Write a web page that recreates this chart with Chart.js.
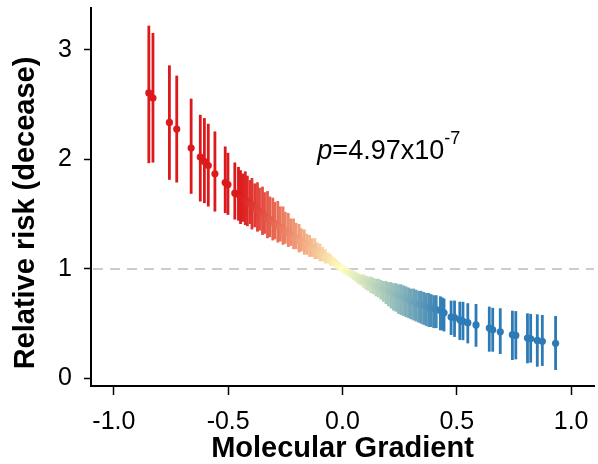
<!DOCTYPE html>
<html lang="en">
<head>
<meta charset="UTF-8"/>
<title>Relative risk vs molecular gradient</title>
<script src="https://cdn.jsdelivr.net/npm/chart.js@4/dist/chart.umd.min.js"></script>
<style>
  body { margin: 0; background: #fff; }
</style>
</head>
<body>
<canvas id="chart" width="598" height="464"></canvas>
<script>
// molecular gradient of each group and its relative risk with 95% CI
const gradient = [
  -0.847, -0.829, -0.757, -0.725, -0.662, -0.622, -0.604, -0.587, -0.558, -0.513, -0.501, -0.471,
  -0.455, -0.446, -0.437, -0.425, -0.416, -0.404, -0.396, -0.384, -0.372, -0.363, -0.350, -0.341,
  -0.328, -0.318, -0.305, -0.296, -0.283, -0.272, -0.260, -0.250, -0.237, -0.226, -0.214, -0.203,
  -0.190, -0.180, -0.167, -0.156, -0.144, -0.133, -0.121, -0.110, -0.098, -0.087, -0.075, -0.064,
  -0.052, -0.041, -0.030, -0.019, -0.008,
  0.003, 0.014, 0.025, 0.036, 0.047, 0.058, 0.069, 0.080, 0.091, 0.102, 0.113, 0.124,
  0.135, 0.146, 0.157, 0.168, 0.179, 0.190, 0.201, 0.212, 0.223, 0.234, 0.245, 0.256,
  0.267, 0.278, 0.289, 0.300, 0.311, 0.322, 0.333, 0.344, 0.355, 0.366, 0.377, 0.388,
  0.399, 0.410, 0.428, 0.436, 0.444,
  0.475, 0.490, 0.513, 0.527, 0.548, 0.584, 0.642, 0.657, 0.690, 0.743, 0.758, 0.809,
  0.823, 0.852, 0.874, 0.932
];
const risk = [
  2.605, 2.559, 2.336, 2.276, 2.102, 2.020, 1.980, 1.943, 1.868, 1.788, 1.770, 1.691,
  1.68, 1.66, 1.65, 1.63, 1.61, 1.60, 1.58, 1.56, 1.54, 1.52, 1.50, 1.48,
  1.46, 1.45, 1.43, 1.41, 1.39, 1.38, 1.36, 1.34, 1.33, 1.31, 1.29, 1.28,
  1.26, 1.25, 1.23, 1.22, 1.20, 1.19, 1.17, 1.16, 1.14, 1.13, 1.11, 1.10,
  1.08, 1.07, 1.05, 1.03, 1.01,
  1.00, 0.98, 0.97, 0.96, 0.95, 0.94, 0.92, 0.91, 0.90, 0.89, 0.88, 0.87,
  0.86, 0.85, 0.84, 0.83, 0.82, 0.81, 0.80, 0.79, 0.78, 0.77, 0.76, 0.75,
  0.74, 0.73, 0.72, 0.71, 0.70, 0.69, 0.68, 0.68, 0.67, 0.66, 0.65, 0.64,
  0.64, 0.63, 0.62, 0.61, 0.60,
  0.561, 0.556, 0.536, 0.522, 0.510, 0.489, 0.461, 0.445, 0.427, 0.400, 0.393, 0.370,
  0.362, 0.348, 0.340, 0.321
];
const lower = [
  1.965, 1.970, 1.813, 1.788, 1.685, 1.615, 1.600, 1.569, 1.523, 1.509, 1.493, 1.450,
  1.44, 1.41, 1.43, 1.40, 1.39, 1.41, 1.36, 1.38, 1.34, 1.35, 1.31, 1.32,
  1.28, 1.29, 1.26, 1.27, 1.24, 1.25, 1.22, 1.23, 1.20, 1.21, 1.18, 1.18,
  1.15, 1.16, 1.13, 1.13, 1.11, 1.11, 1.09, 1.09, 1.07, 1.07, 1.05, 1.05,
  1.03, 1.03, 1.02, 1.01, 1.00,
  0.98, 0.96, 0.94, 0.92, 0.90, 0.88, 0.86, 0.85, 0.83, 0.81, 0.80, 0.78,
  0.77, 0.75, 0.74, 0.72, 0.70, 0.68, 0.66, 0.64, 0.62, 0.61, 0.59, 0.58,
  0.57, 0.56, 0.55, 0.54, 0.53, 0.52, 0.51, 0.50, 0.49, 0.48, 0.47, 0.47,
  0.46, 0.46, 0.44, 0.44, 0.43,
  0.397, 0.380, 0.352, 0.350, 0.321, 0.290, 0.245, 0.245, 0.224, 0.169, 0.175, 0.139,
  0.145, 0.108, 0.115, 0.078
];
const upper = [
  3.219, 3.152, 2.857, 2.763, 2.553, 2.406, 2.376, 2.324, 2.254, 2.117, 2.059, 1.971,
  1.93, 1.90, 1.87, 1.89, 1.85, 1.81, 1.83, 1.78, 1.79, 1.74, 1.75, 1.70,
  1.71, 1.66, 1.65, 1.61, 1.62, 1.57, 1.57, 1.52, 1.51, 1.46, 1.46, 1.42,
  1.41, 1.37, 1.36, 1.32, 1.31, 1.28, 1.28, 1.24, 1.23, 1.20, 1.18, 1.15,
  1.14, 1.11, 1.09, 1.06, 1.03,
  1.01, 1.00, 0.99, 0.98, 0.97, 0.97, 0.96, 0.95, 0.95, 0.94, 0.93, 0.93,
  0.92, 0.91, 0.91, 0.90, 0.89, 0.89, 0.88, 0.88, 0.87, 0.87, 0.86, 0.86,
  0.85, 0.84, 0.83, 0.82, 0.82, 0.81, 0.80, 0.80, 0.79, 0.78, 0.78, 0.77,
  0.76, 0.76, 0.75, 0.74, 0.73,
  0.711, 0.711, 0.701, 0.700, 0.687, 0.680, 0.656, 0.645, 0.641, 0.619, 0.615, 0.595,
  0.590, 0.586, 0.580, 0.571
];

const xTicks = [-1.0, -0.5, 0.0, 0.5, 1.0];
const xTickLabels = ['-1.0', '-0.5', '0.0', '0.5', '1.0'];
const yTicks = [0, 1, 2, 3];
const yTickLabels = ['0', '1', '2', '3'];

// red - yellow - blue along the gradient
const RED = [220, 26, 28], MID = [255, 255, 191], BLUE = [44, 123, 182];
function colorFor(g) {
  let t = Math.max(-1, Math.min(1, g / 0.45));
  const a = t < 0 ? RED : BLUE;
  t = Math.abs(t);
  const c = MID.map((m, k) => Math.round(m + (a[k] - m) * t));
  return 'rgb(' + c.join(',') + ')';
}

const FONT = "'Liberation Sans', Arial, sans-serif";
Chart.defaults.font.family = FONT;
Chart.defaults.color = '#000';

const errorBars = {
  id: 'errorBars',
  beforeDatasetsDraw(chart) {
    const {ctx, chartArea, scales: {x, y}} = chart;
    ctx.save();
    // null line at RR = 1
    const y1 = y.getPixelForValue(1);
    ctx.strokeStyle = '#cccccc';
    ctx.lineWidth = 2;
    ctx.setLineDash([10, 7]);
    ctx.beginPath();
    ctx.moveTo(chartArea.left + 2, y1);
    ctx.lineTo(chartArea.right, y1);
    ctx.stroke();
    ctx.setLineDash([]);
    ctx.lineWidth = 2.8;
    gradient.forEach((g, i) => {
      const px = x.getPixelForValue(g);
      ctx.strokeStyle = colorFor(g);
      ctx.beginPath();
      ctx.moveTo(px, y.getPixelForValue(lower[i]));
      ctx.lineTo(px, y.getPixelForValue(upper[i]));
      ctx.stroke();
    });
    ctx.restore();
  },
  afterDraw(chart) {
    const {ctx, scales: {x, y}} = chart;
    ctx.save();
    // y title
    ctx.translate(26, 213);
    ctx.rotate(-Math.PI / 2);
    ctx.font = 'bold 29px ' + FONT;
    ctx.textAlign = 'center';
    ctx.textBaseline = 'middle';
    ctx.fillStyle = '#000';
    ctx.fillText('Relative risk (decease)', 0, 0);
    ctx.restore();

    // p-value annotation
    ctx.save();
    ctx.fillStyle = '#000';
    ctx.textBaseline = 'alphabetic';
    let px = x.getPixelForValue(-0.11);
    const py = y.getPixelForValue(2.0);
    ctx.font = 'italic 27px ' + FONT;
    ctx.fillText('p', px, py);
    px += ctx.measureText('p').width;
    ctx.font = '27px ' + FONT;
    ctx.fillText('=4.97x10', px, py);
    px += ctx.measureText('=4.97x10').width;
    ctx.font = '18px ' + FONT;
    ctx.fillText('-7', px, py - 15);
    ctx.restore();
  }
};

new Chart(document.getElementById('chart'), {
  type: 'scatter',
  data: {
    datasets: [{
      data: gradient.map((g, i) => ({x: g, y: risk[i]})),
      pointRadius: 3.6,
      pointBorderWidth: 0,
      pointBackgroundColor: gradient.map(colorFor),
      pointBorderColor: gradient.map(colorFor)
    }]
  },
  options: {
    responsive: false,
    animation: false,
    layout: {padding: {top: 8, right: 1, left: 0, bottom: 0}},
    plugins: {legend: {display: false}, tooltip: {enabled: false}},
    scales: {
      x: {
        type: 'linear',
        min: -1.1,
        max: 1.1,
        afterBuildTicks: s => { s.ticks = xTicks.map(v => ({value: v})); },
        afterFit: s => { s.height = 78; s.paddingLeft = 0; s.paddingRight = 0; },
        ticks: {
          font: {size: 25},
          padding: 12,
          maxRotation: 0,
          callback: (v, i) => xTickLabels[i]
        },
        grid: {drawOnChartArea: false, tickLength: 9, tickWidth: 1.5, tickColor: '#000'},
        border: {display: true, color: '#000', width: 2},
        title: {
          display: true,
          text: 'Molecular Gradient',
          font: {size: 29, weight: 'bold'},
          padding: {top: 0, bottom: -2}
        }
      },
      y: {
        type: 'linear',
        min: -0.068,
        max: 3.38,
        afterBuildTicks: s => { s.ticks = yTicks.map(v => ({value: v})); },
        afterFit: s => { s.width = 91; s.paddingTop = 0; s.paddingBottom = 0; },
        ticks: {
          font: {size: 25},
          padding: 12,
          callback: (v, i) => yTickLabels[i]
        },
        grid: {drawOnChartArea: false, tickLength: 7, tickWidth: 1.5, tickColor: '#000'},
        border: {display: true, color: '#000', width: 2}
      }
    }
  },
  plugins: [errorBars]
});
</script>
</body>
</html>
